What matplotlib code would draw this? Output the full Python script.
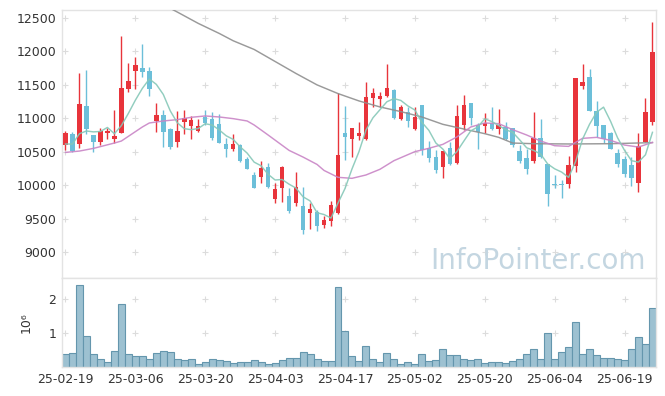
import matplotlib
matplotlib.use('Agg')
import matplotlib.pyplot as plt
import numpy as np
import pandas as pd

# daily candles, 25-02-19 .. 25-06-25 (trading days only)
opens = [10600, 10760, 10616, 11184, 10750, 10646, 10780, 10690, 10785, 11438, 11713, 11752,
         11708, 10965, 11049, 10840, 10641, 10950, 10890, 10805, 11025, 10990, 10915, 10616,
         10536, 10601, 10391, 10152, 10127, 10277, 9793, 9962, 9843, 9728, 9688, 9588,
         9603, 9404, 9469, 9588, 10775, 10690, 10740, 10685, 11309, 11294, 11334, 11423,
         10985, 11099, 10840, 11199, 10551, 10426, 10267, 10551, 10336, 10900, 11224, 10900,
         10890, 10925, 10835, 10875, 10850, 10511, 10401, 10366, 10700, 10317, 10017, 10017,
         10012, 10292, 11483, 11613, 11109, 10900, 10785, 10476, 10386, 10301, 10037, 10651, 10950]
highs = [10810, 10800, 11673, 11723, 10750, 10850, 10850, 11124, 12231, 11822, 11922, 12111,
         11772, 11224, 11124, 10860, 11109, 11124, 11035, 10990, 11124, 11090, 11064, 10700,
         10765, 10610, 10426, 10192, 10366, 10326, 10027, 10280, 9953, 10192, 9967, 9728,
         9628, 9539, 9768, 11373, 11189, 10855, 10950, 11538, 11458, 11388, 11812, 11433,
         11199, 11174, 11174, 11200, 10660, 10526, 10515, 10650, 11199, 11349, 11230, 10925,
         11084, 11164, 11139, 10940, 10855, 10601, 10536, 11099, 10985, 10320, 10152, 10077,
         10441, 11600, 11807, 11742, 11264, 10905, 10790, 10536, 10441, 10426, 10775, 11299, 12436]
lows = [10530, 10490, 10551, 10765, 10501, 10600, 10685, 10626, 10775, 11388, 11433, 11623,
        11334, 10800, 10566, 10536, 10576, 10760, 10690, 10800, 10900, 10675, 10626, 10426,
        10516, 10351, 10237, 9952, 10027, 9952, 9738, 9753, 9589, 9693, 9265, 9339,
        9319, 9354, 9389, 9569, 10376, 10416, 10675, 10675, 11174, 11174, 11314, 10990,
        10975, 10865, 10825, 10451, 10351, 10187, 10102, 10302, 10317, 10825, 10900, 10536,
        10775, 10825, 10765, 10675, 10576, 10326, 10167, 10326, 10401, 9688, 9952, 9803,
        9952, 10202, 11433, 11110, 10725, 10626, 10540, 10277, 10127, 9987, 9903, 10650, 10900]
closes = [10780, 10510, 11209, 10840, 10646, 10810, 10810, 10740, 11448, 11558, 11797, 11693,
          11443, 11049, 10800, 10566, 10810, 11000, 10975, 10885, 10925, 10710, 10636, 10536,
          10616, 10366, 10242, 9962, 10262, 9977, 9943, 10277, 9613, 9967, 9329, 9638,
          9389, 9479, 9703, 10451, 10725, 10850, 10775, 11314, 11373, 11329, 11448, 11010,
          11174, 10965, 11025, 10526, 10411, 10227, 10511, 10317, 11035, 11199, 11000, 10800,
          10925, 10835, 10900, 10685, 10601, 10366, 10242, 10700, 10416, 9863, 10002, 9997,
          10301, 11598, 11548, 11114, 10890, 10685, 10546, 10317, 10167, 10112, 10586, 11089, 11997]
# volume in millions of shares
volumes = [0.37, 0.40, 2.41, 0.90, 0.37, 0.24, 0.14, 0.46, 1.87, 0.37, 0.31, 0.31,
           0.25, 0.40, 0.46, 0.43, 0.25, 0.20, 0.23, 0.08, 0.14, 0.23, 0.20, 0.17,
           0.11, 0.14, 0.14, 0.20, 0.14, 0.08, 0.11, 0.20, 0.28, 0.28, 0.43, 0.37,
           0.23, 0.17, 0.17, 2.37, 1.05, 0.31, 0.17, 0.61, 0.25, 0.14, 0.40, 0.23,
           0.08, 0.14, 0.08, 0.37, 0.17, 0.20, 0.52, 0.34, 0.34, 0.23, 0.20, 0.25,
           0.11, 0.14, 0.14, 0.11, 0.17, 0.25, 0.37, 0.52, 0.25, 0.99, 0.23, 0.43,
           0.58, 1.34, 0.37, 0.52, 0.34, 0.28, 0.28, 0.25, 0.20, 0.52, 0.87, 0.67, 1.73]

# 5-day MA values before enough closes are on screen
ma5_head = [10615, 10615, 10770, 10810]
# 20-day and 120-day MA (day index, value)
ma20_idx = [0, 2, 4, 7, 8, 9, 10, 11, 12, 14, 16, 18, 20, 22, 24, 26, 27, 29, 32, 34, 36, 37,
            39, 41, 43, 45, 47, 50, 52, 54, 56, 58, 60, 62, 64, 66, 68, 70, 72, 74, 76,
            78, 80, 82, 84]
ma20_val = [10490, 10510, 10550, 10630, 10660, 10730, 10800, 10870, 10930, 10960, 10980,
            11015, 11035, 11020, 10995, 10960, 10900, 10750, 10520, 10420, 10310, 10220,
            10117, 10102, 10152, 10237, 10366, 10501, 10551, 10610, 10720, 10870, 10930,
            10920, 10830, 10750, 10660, 10590, 10580, 10700, 10715, 10670, 10600, 10570, 10640]
ma120_idx = [14, 16, 19, 22, 24, 27, 30, 33, 36, 39, 42, 45, 48, 51, 54, 57, 60, 62, 64,
             67, 72, 78, 84]
ma120_val = [12700, 12590, 12420, 12270, 12160, 12030, 11850, 11670, 11500, 11370, 11260,
             11170, 11100, 11020, 10910, 10840, 10770, 10715, 10630, 10620, 10616, 10620, 10636]

tick_labels = ['25-02-19', '25-03-06', '25-03-20', '25-04-03', '25-04-17',
               '25-05-02', '25-05-20', '25-06-04', '25-06-19']
price_ticks = [9000, 9500, 10000, 10500, 11000, 11500, 12000, 12500]
vol_ticks = [1, 2]

RED = '#e8343b'
BLUE = '#6cbfd9'
FRAME = '#e3e3e3'
TXT = '#333333'

o = np.array(opens, float)
h = np.array(highs, float)
l = np.array(lows, float)
c = np.array(closes, float)
x = np.arange(len(o))

ma5 = pd.Series(c).rolling(5).mean().to_numpy()
ma5[:4] = ma5_head

fig = plt.figure(figsize=(6.65, 3.96), dpi=100)
ax = fig.add_axes([0.0932, 0.298, 0.8932, 0.6767])
axv = fig.add_axes([0.0932, 0.0732, 0.8932, 0.2247], sharex=ax)

cols = np.where(c >= o, RED, BLUE)
ax.vlines(x, l, h, colors=cols, lw=1.0, zorder=2)
ax.bar(x, np.maximum(np.abs(c - o), 8), bottom=np.minimum(o, c), width=0.64,
       color=cols, linewidth=0, zorder=3)

ax.plot(ma120_idx, ma120_val, color='#8f8f8f', lw=1.05, alpha=0.9, zorder=4)
ax.plot(ma20_idx, ma20_val, color='#c985c6', lw=1.05, alpha=0.9, zorder=4)
ax.plot(x, ma5, color='#86c8b8', lw=1.05, alpha=0.9, zorder=4)

ax.text(0.62, 0.035, 'InfoPointer.com', transform=ax.transAxes, fontsize=20,
        color='#c4d6e1', va='baseline', ha='left', zorder=1)

axv.bar(x, volumes, width=1.0, color='#9dc1d1', edgecolor='#6496ad', linewidth=0.8)

xt = list(range(0, len(x), 10))
ax.set_xlim(-0.5, len(x) - 0.5)
ax.set_ylim(8611, 12620)
axv.set_ylim(0, 2.62)

ax.set_yticks(price_ticks)
ax.set_yticklabels([str(v) for v in price_ticks])
axv.set_yticks(vol_ticks)
axv.set_yticklabels([str(v) for v in vol_ticks])
axv.set_xticks(xt)
axv.set_xticklabels(tick_labels)
ax.tick_params(axis='x', labelbottom=False, length=0)

for a in (ax, axv):
    a.tick_params(length=0, labelsize=9, labelcolor=TXT, pad=4)
    for s in a.spines.values():
        s.set_color(FRAME)
        s.set_linewidth(1.0)
    a.set_facecolor('white')

# little + marks where grid lines would cross
gx, gy = np.meshgrid(xt, price_ticks)
ax.scatter(gx.ravel(), gy.ravel(), marker='+', s=14, color='#dcdcdc', lw=0.8, zorder=0)
gx, gy = np.meshgrid(xt, vol_ticks)
axv.scatter(gx.ravel(), gy.ravel(), marker='+', s=14, color='#dcdcdc', lw=0.8, zorder=0)

axv.set_ylabel('10⁶', fontsize=9, color=TXT)
axv.yaxis.set_label_coords(-0.05, 0.5)

fig.savefig('out.png', dpi=100)
